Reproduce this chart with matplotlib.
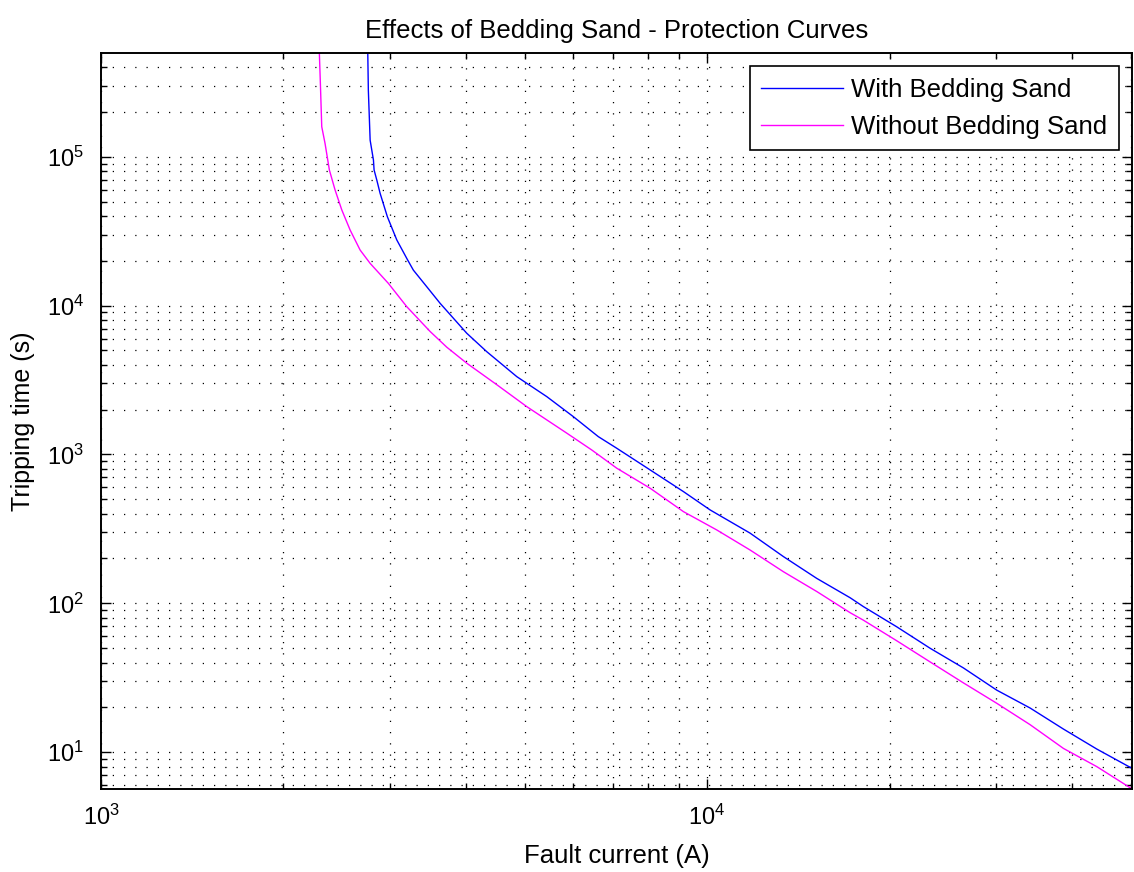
import matplotlib.pyplot as plt
from matplotlib.ticker import LogLocator, NullFormatter

plt.rcParams['font.family'] = ['Liberation Sans', 'DejaVu Sans']
plt.rcParams['mathtext.default'] = 'regular'

# fault current (A) and tripping time (s)
current_with = [2755, 2761, 2780, 2815, 2822, 2851, 2887, 2968, 3076, 3202,
                3276, 3467, 3626, 4013, 4329, 4853, 5439, 6016, 6615, 7096,
                8054, 9140, 10115, 11776, 13365, 15171, 17219, 18113, 20561,
                23335, 26486, 30063, 34121, 38726, 43954, 50220]
time_with = [5.0e5, 2.8e5, 1.29e5, 9.5e4, 8.14e4, 6.97e4, 5.68e4, 3.95e4,
             2.76e4, 2.04e4, 1.73e4, 1.30e4, 1.036e4, 6516, 4903, 3331, 2445,
             1794, 1317, 1100, 787, 563, 424, 296, 206, 147, 109, 95, 69.5,
             49.9, 36.8, 26.1, 19.8, 14.3, 10.5, 7.8]

current_without = [2292, 2302, 2313, 2342, 2381, 2433, 2496, 2576, 2676, 2780,
                   2979, 3195, 3491, 3720, 4013, 4498, 5041, 5868, 6451, 7096,
                   8054, 9140, 10375, 11776, 13365, 15171, 17219, 18113, 20561,
                   23335, 26486, 30063, 34121, 38726, 43954, 49567, 50220]
time_without = [5.0e5, 2.94e5, 1.59e5, 1.23e5, 8.14e4, 5.98e4, 4.39e4,
                3.22e4, 2.36e4, 1.92e4, 1.41e4, 9830, 6700, 5250, 4100, 2940,
                2094, 1390, 1072, 808, 593, 413, 311, 228, 163, 120, 86.5,
                77.0, 56.0, 40.4, 29.2, 21.3, 15.3, 10.6, 8.0, 5.87, 5.66]

labels = ['With Bedding Sand', 'Without Bedding Sand']

fig = plt.figure(figsize=(11.34, 8.72), dpi=100)
ax = fig.add_axes([0.0891, 0.0952, 0.9089, 0.8437])

ax.plot(current_with, time_with, color=(0, 0, 1), lw=1.0, label=labels[0])
ax.plot(current_without, time_without, color=(1, 0, 1), lw=1.0, label=labels[1])

ax.set_xscale('log')
ax.set_yscale('log')
ax.set_xlim(1000, 5.02e4)
ax.set_ylim(5.66, 4.95e5)

ax.xaxis.set_minor_locator(LogLocator(base=10, subs=range(2, 10)))
ax.yaxis.set_minor_locator(LogLocator(base=10, subs=range(2, 10)))
ax.xaxis.set_minor_formatter(NullFormatter())
ax.yaxis.set_minor_formatter(NullFormatter())

ax.grid(True, which='both', color='k', linestyle=(0, (1, 8)), linewidth=0.9)
ax.tick_params(which='both', direction='in', top=True, right=True,
               labelsize=17, width=1.0, colors='k')
ax.tick_params(which='major', length=7)
ax.tick_params(which='minor', length=4)
ax.tick_params(axis='x', which='major', pad=11)
ax.tick_params(axis='y', which='major', pad=12)
for s in ax.spines.values():
    s.set_linewidth(1.4)

ax.set_title('Effects of Bedding Sand - Protection Curves', fontsize=18.5, pad=11)
ax.set_xlabel('Fault current (A)', fontsize=18.5)
ax.set_ylabel('Tripping time (s)', fontsize=18)
ax.xaxis.set_label_coords(0.5, -0.075)
ax.yaxis.set_label_coords(-0.064, 0.5)

leg = ax.legend(loc='upper right', fontsize=18.5, fancybox=False, framealpha=1,
                edgecolor='k', handlelength=3.2, borderaxespad=0.5,
                labelspacing=0.5, borderpad=0.45, handletextpad=0.3)
leg.get_frame().set_linewidth(1.2)

fig.savefig('out.png', dpi=100)
